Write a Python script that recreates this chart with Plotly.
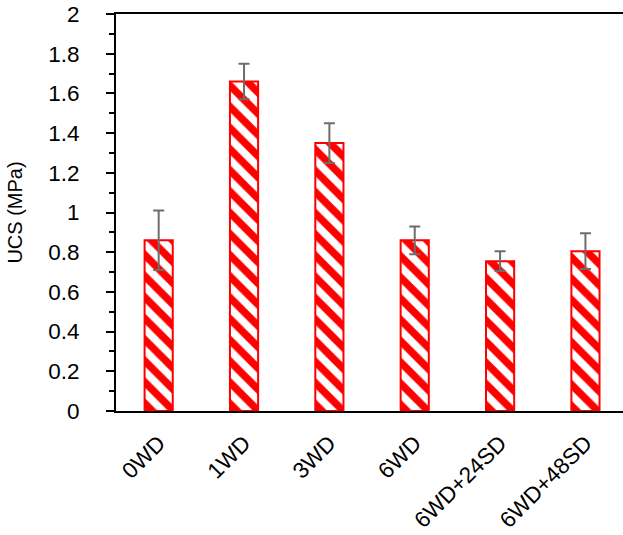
import plotly.graph_objects as go

categories = ["0WD", "1WD", "3WD", "6WD", "6WD+24SD", "6WD+48SD"]
ucs_values = [0.86, 1.66, 1.35, 0.86, 0.755, 0.805]
ucs_errors = [0.15, 0.09, 0.10, 0.07, 0.05, 0.09]
y_ticks = [0, 0.2, 0.4, 0.6, 0.8, 1.0, 1.2, 1.4, 1.6, 1.8, 2.0]
y_tick_labels = ["0", "0.2", "0.4", "0.6", "0.8", "1", "1.2", "1.4", "1.6", "1.8", "2"]

FONT = "Liberation Sans, Arial, sans-serif"
FS = 22.5

fig = go.Figure()
fig.add_trace(go.Bar(
    x=list(range(len(categories))),
    y=ucs_values,
    width=0.33,
    marker=dict(
        color="white",
        line=dict(color="#ff0000", width=2),
        pattern=dict(shape="\\", fgcolor="#ff0000", fgopacity=1, bgcolor="white",
                     size=15, solidity=0.5, fillmode="replace"),
    ),
    error_y=dict(type="data", array=ucs_errors, visible=True,
                 color="#6d6d6d", thickness=2, width=5.5),
))

fig.update_layout(
    width=623, height=535,
    margin=dict(l=116, r=0, t=14, b=124),
    paper_bgcolor="white", plot_bgcolor="white",
    showlegend=False,
    font=dict(family=FONT, size=FS, color="black"),
    xaxis=dict(
        range=[-0.5, 5.44],
        tickmode="array",
        tickvals=list(range(len(categories))),
        ticktext=categories,
        tickangle=-45,
        showline=True, linecolor="black", linewidth=2, mirror=True,
        showgrid=False, zeroline=False,
        ticks="", ticklabelstandoff=8,
        tickfont=dict(family=FONT, size=FS, color="black"),
    ),
    yaxis=dict(
        range=[0, 2],
        tickmode="array",
        tickvals=y_ticks,
        ticktext=y_tick_labels,
        showline=True, linecolor="black", linewidth=2,
        showgrid=False, zeroline=False,
        ticks="outside", ticklen=8, tickwidth=1.5, tickcolor="black",
        minor=dict(dtick=0.1, ticks="outside", ticklen=5, tickwidth=1.5, tickcolor="black", showgrid=False),
        ticklabelstandoff=22,
        tickfont=dict(family=FONT, size=FS, color="black"),
        title=dict(text="UCS (MPa)", font=dict(family=FONT, size=20, color="black"), standoff=20),
    ),
)

fig.write_html("out.html")
